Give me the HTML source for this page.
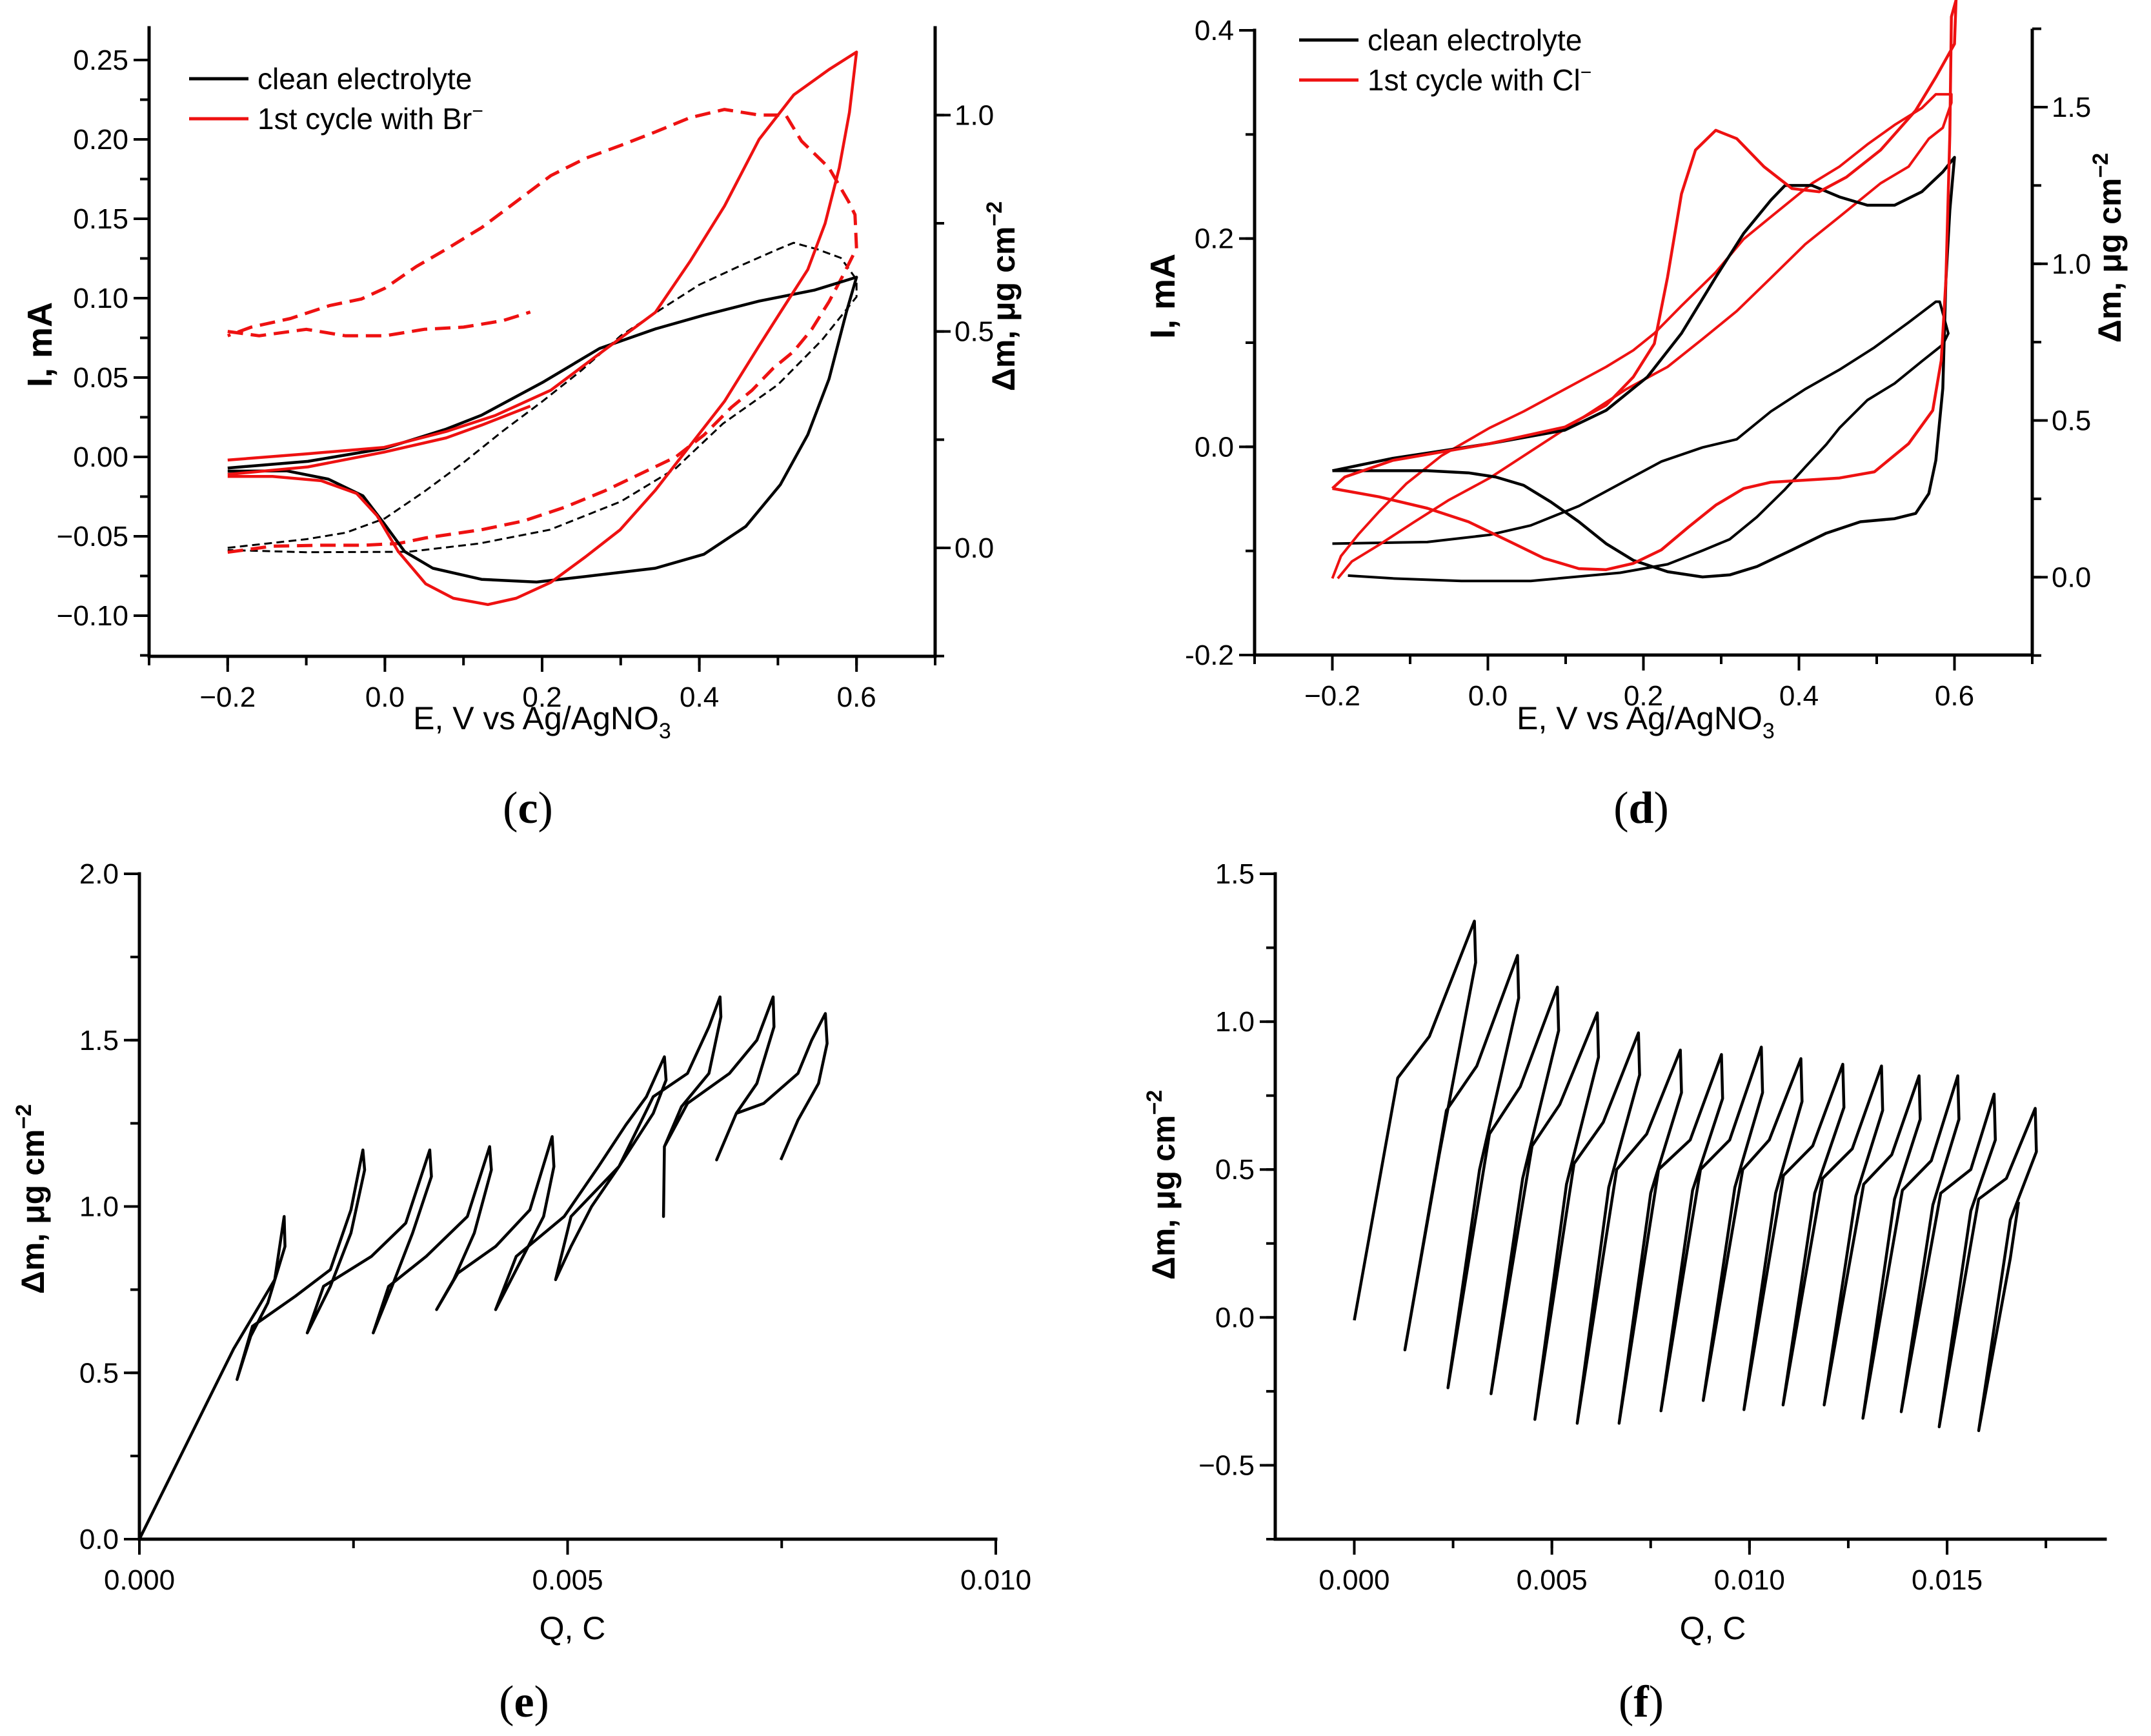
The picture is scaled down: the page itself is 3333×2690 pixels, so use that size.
<!DOCTYPE html>
<html><head><meta charset="utf-8"><style>
html,body{margin:0;padding:0;background:#fff;}
svg{display:block;font-family:"Liberation Sans",sans-serif;}
</style></head><body>
<svg id="fig" width="3333" height="2690" viewBox="0 0 3333 2690" xmlns="http://www.w3.org/2000/svg">
<rect width="3333" height="2690" fill="#fff"/>
<g id="pc"></g>
<g id="pd"></g>
<g id="pe"></g>
<g id="pf"></g>
</svg>
<script>
// ---------- Panel (c) data ----------
const cBlackE=[-0.2,-0.098,-0.001,0.078,0.123,0.202,0.273,0.344,0.406,0.476,0.547,0.6,0.587,0.565,0.538,0.503,0.459,0.406,0.344,0.255,0.193,0.123,0.061,0.025,-0.001,-0.028,-0.072,-0.125,-0.2];
const cBlackI=[-0.007,-0.0028,0.0053,0.0175,0.0263,0.0473,0.0683,0.0806,0.0893,0.0981,0.1051,0.1132,0.0911,0.0491,0.014,-0.0175,-0.0438,-0.0613,-0.0701,-0.0753,-0.0788,-0.0771,-0.0701,-0.0596,-0.042,-0.0245,-0.014,-0.0088,-0.009];
const cRedE=[-0.2,-0.098,-0.001,0.078,0.14,0.211,0.273,0.344,0.388,0.432,0.476,0.52,0.565,0.6,0.591,0.578,0.56,0.538,0.503,0.476,0.432,0.388,0.344,0.299,0.255,0.211,0.167,0.131,0.087,0.052,0.017,-0.01,-0.036,-0.081,-0.143,-0.2];
const cRedI=[-0.002,0.002,0.006,0.016,0.026,0.042,0.065,0.091,0.123,0.158,0.2,0.228,0.244,0.255,0.217,0.182,0.147,0.118,0.091,0.07,0.035,0.007,-0.021,-0.046,-0.063,-0.079,-0.089,-0.093,-0.089,-0.08,-0.0596,-0.037,-0.023,-0.015,-0.0123,-0.0123];
const cRed2E=[-0.2,-0.098,-0.001,0.078,0.123,0.185];
const cRed2I=[-0.011,-0.0063,0.003,0.012,0.02,0.032];
const cRedMassE=[-0.2,-0.143,-0.081,-0.028,0.017,0.052,0.123,0.176,0.229,0.28,0.325,0.37,0.406,0.441,0.467,0.494,0.52,0.543,0.565,0.582,0.6,0.598,0.59,0.565,0.53,0.51,0.476,0.432,0.388,0.344,0.3,0.255,0.211,0.167,0.123,0.078,0.04,0.0,-0.03,-0.07,-0.12,-0.17,-0.2];
const cRedMassM=[-0.01,0.004,0.006,0.006,0.01,0.023,0.042,0.062,0.094,0.132,0.171,0.21,0.261,0.325,0.364,0.415,0.454,0.505,0.569,0.627,0.692,0.77,0.8,0.878,0.94,1.0,1.0,1.013,0.994,0.961,0.93,0.9,0.86,0.8,0.74,0.69,0.65,0.6,0.575,0.56,0.53,0.51,0.49];
const cRedMass2E=[-0.2,-0.16,-0.1,-0.05,0.0,0.05,0.1,0.15,0.185];
const cRedMass2M=[0.5,0.49,0.505,0.49,0.49,0.505,0.51,0.525,0.545];
const cBlackMassE=[-0.2,-0.15,-0.1,-0.05,0.0,0.05,0.1,0.15,0.2,0.25,0.3,0.35,0.4,0.45,0.5,0.52,0.55,0.58,0.6,0.6,0.556,0.5,0.43,0.37,0.3,0.21,0.12,0.03,-0.1,-0.2];
const cBlackMassM=[0.0,0.01,0.02,0.035,0.068,0.13,0.197,0.27,0.338,0.41,0.49,0.55,0.608,0.65,0.69,0.705,0.69,0.67,0.62,0.58,0.48,0.377,0.287,0.184,0.107,0.042,0.01,-0.009,-0.01,-0.005];
const cXTicks=[-0.2,0.0,0.2,0.4,0.6];
const cXLabels=["\u22120.2","0.0","0.2","0.4","0.6"];
const cYTicks=[-0.10,-0.05,0.00,0.05,0.10,0.15,0.20,0.25];
const cYLabels=["\u22120.10","\u22120.05","0.00","0.05","0.10","0.15","0.20","0.25"];
const cY2Ticks=[0.0,0.5,1.0];
const cY2Labels=["0.0","0.5","1.0"];

// ---------- Panel (d) data ----------
const dBlackE=[-0.2,-0.122,0.002,0.099,0.152,0.205,0.249,0.293,0.329,0.364,0.382,0.417,0.452,0.488,0.523,0.558,0.585,0.6,0.594,0.589,0.585,0.576,0.567,0.55,0.523,0.479,0.435,0.391,0.346,0.311,0.276,0.231,0.187,0.152,0.117,0.081,0.046,0.01,-0.025,-0.078,-0.14,-0.2];
const dBlackI=[-0.023,-0.011,0.003,0.016,0.035,0.067,0.109,0.163,0.205,0.237,0.251,0.251,0.24,0.232,0.232,0.245,0.264,0.278,0.227,0.16,0.056,-0.013,-0.045,-0.064,-0.069,-0.072,-0.083,-0.099,-0.115,-0.123,-0.125,-0.12,-0.109,-0.093,-0.072,-0.053,-0.037,-0.029,-0.025,-0.023,-0.023,-0.023];
const dRedE=[-0.2,-0.184,-0.122,0.002,0.099,0.152,0.187,0.214,0.231,0.249,0.267,0.293,0.32,0.355,0.391,0.426,0.461,0.505,0.55,0.576,0.6,0.602,0.596,0.594,0.589,0.583,0.572,0.541,0.497,0.452,0.408,0.364,0.329,0.293,0.258,0.223,0.187,0.152,0.117,0.072,0.028,-0.025,-0.078,-0.14,-0.2];
const dRedI=[-0.04,-0.029,-0.013,0.003,0.019,0.04,0.067,0.099,0.163,0.243,0.285,0.304,0.296,0.269,0.248,0.245,0.259,0.285,0.323,0.355,0.387,0.429,0.413,0.3,0.16,0.083,0.035,0.003,-0.024,-0.03,-0.032,-0.034,-0.04,-0.056,-0.077,-0.099,-0.112,-0.118,-0.117,-0.107,-0.091,-0.072,-0.059,-0.048,-0.04];
const dRedMassE=[-0.2,-0.189,-0.166,-0.14,-0.105,-0.06,0.002,0.046,0.099,0.152,0.187,0.214,0.249,0.293,0.329,0.364,0.417,0.452,0.488,0.523,0.558,0.576,0.596,0.596,0.585,0.567,0.541,0.505,0.452,0.408,0.364,0.32,0.276,0.231,0.178,0.134,0.09,0.046,0.002,-0.051,-0.096,-0.14,-0.175,-0.193];
const dRedMassM=[-0.004,0.067,0.138,0.209,0.298,0.387,0.476,0.529,0.6,0.671,0.724,0.778,0.866,0.973,1.079,1.15,1.257,1.31,1.381,1.443,1.497,1.541,1.541,1.514,1.434,1.399,1.31,1.257,1.15,1.062,0.955,0.849,0.76,0.671,0.6,0.529,0.458,0.387,0.316,0.245,0.174,0.103,0.05,-0.004];
const dBlackMassE=[-0.2,-0.078,0.002,0.055,0.117,0.17,0.223,0.276,0.32,0.364,0.408,0.452,0.497,0.541,0.576,0.581,0.592,0.585,0.558,0.523,0.488,0.452,0.435,0.408,0.382,0.346,0.311,0.276,0.231,0.17,0.055,-0.034,-0.122,-0.18];
const dBlackMassM=[0.107,0.112,0.135,0.165,0.227,0.298,0.369,0.414,0.44,0.529,0.6,0.662,0.733,0.813,0.879,0.879,0.778,0.742,0.689,0.618,0.565,0.476,0.423,0.351,0.28,0.192,0.121,0.085,0.041,0.014,-0.012,-0.012,-0.004,0.005];
const dXTicks=[-0.2,0.0,0.2,0.4,0.6];
const dXLabels=["\u22120.2","0.0","0.2","0.4","0.6"];
const dYTicks=[-0.2,0.0,0.2,0.4];
const dYLabels=["-0.2","0.0","0.2","0.4"];
const dY2Ticks=[0.0,0.5,1.0,1.5];
const dY2Labels=["0.0","0.5","1.0","1.5"];

// ---------- Panel (e) data ----------
const eQ=[0,0.0011,0.00158,0.00169,0.0017,0.0015,0.0013,0.00114,0.00132,0.00182,0.00223,0.00247,0.00261,0.00263,0.00247,0.00223,0.00196,0.00215,0.00271,0.00311,0.00339,0.00341,0.00319,0.00295,0.00273,0.00291,0.00335,0.00383,0.00409,0.00411,0.00391,0.00367,0.00347,0.00372,0.00416,0.00456,0.00482,0.00484,0.00472,0.00448,0.00416,0.0044,0.00496,0.00536,0.00568,0.00592,0.00613,0.00615,0.006,0.0056,0.00528,0.00504,0.00486,0.00504,0.0056,0.006,0.0064,0.00665,0.00678,0.00679,0.00665,0.00633,0.00613,0.00612,0.00613,0.0064,0.00689,0.00721,0.0074,0.00741,0.00721,0.00697,0.00674,0.00697,0.00729,0.00769,0.00785,0.00801,0.00803,0.00793,0.00769,0.00749];
const eM=[0,0.572,0.78,0.97,0.88,0.71,0.61,0.48,0.64,0.73,0.81,0.99,1.17,1.11,0.92,0.76,0.62,0.76,0.85,0.95,1.17,1.09,0.92,0.76,0.62,0.76,0.85,0.97,1.18,1.11,0.92,0.78,0.69,0.8,0.88,0.99,1.21,1.12,0.97,0.85,0.69,0.85,0.97,1.12,1.245,1.33,1.45,1.38,1.28,1.12,1.0,0.88,0.78,0.97,1.12,1.33,1.4,1.54,1.63,1.57,1.4,1.3,1.18,0.97,1.18,1.31,1.4,1.5,1.63,1.54,1.37,1.28,1.14,1.28,1.31,1.4,1.5,1.58,1.49,1.37,1.26,1.14];
const eXTicks=[0,0.005,0.01];
const eXLabels=["0.000","0.005","0.010"];
const eYTicks=[0,0.5,1.0,1.5,2.0];
const eYLabels=["0.0","0.5","1.0","1.5","2.0"];

// ---------- Panel (f) data ----------
const fQ=[0,0.0011,0.0019,0.00304,0.00307,0.00215,0.00128,0.00233,0.0031,0.00413,0.00416,0.00317,0.00237,0.00342,0.0042,0.00514,0.00517,0.00426,0.00346,0.0045,0.0052,0.00615,0.00618,0.00537,0.00457,0.00556,0.0063,0.00719,0.00722,0.00644,0.00564,0.00664,0.0074,0.00825,0.00828,0.0075,0.0067,0.0077,0.0085,0.00929,0.00932,0.00856,0.00776,0.00876,0.0095,0.0103,0.01033,0.00963,0.00883,0.00983,0.0105,0.0113,0.01133,0.01066,0.00986,0.01086,0.0116,0.01236,0.01239,0.01165,0.01085,0.01185,0.0126,0.01334,0.01337,0.01269,0.01189,0.01289,0.0136,0.01429,0.01432,0.01367,0.01287,0.01387,0.0146,0.01527,0.0153,0.01464,0.01384,0.01484,0.0156,0.01619,0.01622,0.0156,0.0148,0.0158,0.0165,0.01723,0.01726,0.0166,0.0158,0.0166,0.01681];
const fM=[-0.01,0.81,0.95,1.34,1.2,0.55,-0.11,0.7,0.85,1.224,1.08,0.5,-0.238,0.62,0.78,1.117,0.97,0.47,-0.258,0.58,0.72,1.03,0.88,0.45,-0.345,0.52,0.66,0.962,0.82,0.44,-0.358,0.5,0.62,0.904,0.76,0.42,-0.358,0.5,0.6,0.889,0.74,0.43,-0.316,0.5,0.6,0.914,0.76,0.44,-0.281,0.5,0.6,0.875,0.73,0.42,-0.312,0.48,0.58,0.856,0.71,0.42,-0.296,0.47,0.57,0.85,0.7,0.41,-0.296,0.45,0.55,0.817,0.67,0.4,-0.341,0.43,0.53,0.817,0.67,0.38,-0.319,0.42,0.5,0.755,0.6,0.36,-0.37,0.4,0.47,0.707,0.56,0.33,-0.383,0.2,0.391];
const fXTicks=[0,0.005,0.01,0.015];
const fXLabels=["0.000","0.005","0.010","0.015"];
const fYTicks=[-0.5,0,0.5,1.0,1.5];
const fYLabels=["\u22120.5","0.0","0.5","1.0","1.5"];

const NS="http://www.w3.org/2000/svg";
const TICK_FS=44, TITLE_FS=50;
function mk(parent,tag,attrs){const el=document.createElementNS(NS,tag);for(const k in attrs)el.setAttribute(k,attrs[k]);parent.appendChild(el);return el;}
function scale(d0,d1,p0,p1){return v=>p0+(v-d0)/(d1-d0)*(p1-p0);}
function line(g,xs,ys,sx,sy,color,w,dash,name){
  let d="";for(let i=0;i<xs.length;i++){d+=(i?"L":"M")+sx(xs[i]).toFixed(1)+","+sy(ys[i]).toFixed(1);}
  const p=mk(g,"path",{d:d,fill:"none",stroke:color,"stroke-width":w,"stroke-linejoin":"round"});
  if(dash)p.setAttribute("stroke-dasharray",dash);
  
  
  return p;
}
function txt(g,x,y,s,size,anchor,name){
  const t=mk(g,"text",{x:x,y:y,"font-size":size,"text-anchor":anchor||"middle",fill:"#000"});
  t.textContent=s;
  
  
  return t;
}
function axes(g,o){
  const {L,R,T,B,sx,sy,xt,xl,yt,yl,xminor,yminor,y2}=o;
  const ax=mk(g,"path",{d:`M${L},${T}L${L},${B}L${R},${B}`+(y2?`M${R},${T}L${R},${B}`:""),fill:"none",stroke:"#000","stroke-width":5,"stroke-linecap":"square"});
  
  
  xminor.forEach(v=>{const x=sx(v);const t=mk(g,"line",{x1:x,y1:B,x2:x,y2:B+14,stroke:"#000","stroke-width":4});});
  xt.forEach((v,i)=>{const x=sx(v);const t=mk(g,"line",{x1:x,y1:B,x2:x,y2:B+24,stroke:"#000","stroke-width":4});txt(g,x,B+78,xl[i],TICK_FS,"middle","x-tick-label");});
  yminor.forEach(v=>{const y=sy(v);const t=mk(g,"line",{x1:L,y1:y,x2:L-14,y2:y,stroke:"#000","stroke-width":4});});
  yt.forEach((v,i)=>{const y=sy(v);const t=mk(g,"line",{x1:L,y1:y,x2:L-24,y2:y,stroke:"#000","stroke-width":4});txt(g,L-32,y+15,yl[i],TICK_FS,"end","y-tick-label");});
  if(y2){
    y2.minor.forEach(v=>{const y=y2.s(v);const t=mk(g,"line",{x1:R,y1:y,x2:R+14,y2:y,stroke:"#000","stroke-width":4});});
    y2.t.forEach((v,i)=>{const y=y2.s(v);const t=mk(g,"line",{x1:R,y1:y,x2:R+24,y2:y,stroke:"#000","stroke-width":4});txt(g,R+30,y+15,y2.l[i],TICK_FS,"start","y2-tick-label");});
  }
}
function range(a,b,s){const r=[];for(let v=a;v<=b+1e-9;v+=s)r.push(+v.toFixed(6));return r;}
function dmTitle(g,x,y,name){
  const t=mk(g,"text",{x:0,y:0,"font-size":TITLE_FS,"text-anchor":"middle","font-weight":"bold",transform:`translate(${x},${y}) rotate(-90)`});
  t.innerHTML='\u0394m, \u03bcg cm<tspan dy="-20" font-size="34">\u22122</tspan>';
  
  
}
function vTitle(g,x,y,s,name){
  const t=mk(g,"text",{x:0,y:0,"font-size":TITLE_FS+4,"text-anchor":"middle","font-weight":"bold",transform:`translate(${x},${y}) rotate(-90)`});
  t.textContent=s;
  
  
}
function eTitle(g,x,y){
  const t=mk(g,"text",{x:x,y:y,"font-size":TITLE_FS,"text-anchor":"middle"});
  t.innerHTML='E, V vs Ag/AgNO<tspan dy="14" font-size="34">3</tspan>';
  
  
}
function panelLabel(g,x,y,s){
  const t=mk(g,"text",{x:x,y:y,"font-size":70,"text-anchor":"middle","font-family":"Liberation Serif, serif"});
  t.innerHTML='(<tspan font-weight="bold">'+s+'</tspan>)';
  
  
}
function legend(g,x,y,items){
  items.forEach((it,i)=>{
    const yy=y+i*62;
    const l=mk(g,"line",{x1:x,y1:yy,x2:x+92,y2:yy,stroke:it.c,"stroke-width":5});
    
    
    const t=mk(g,"text",{x:x+106,y:yy+16,"font-size":46});
    t.innerHTML=it.t;
    
    
  });
}
const RED="#ee1111";
// Panel c
(function(){
  const g=document.getElementById("pc");
  const L=231,R=1449,T=43,B=1017;
  const sx=scale(-0.3,0.7,L,R), sy=scale(-0.1256,0.2703,B,T), sy2=scale(-0.2506,1.2018,B,T);
  axes(g,{L,R,T,B,sx,sy,xt:cXTicks,xl:cXLabels,yt:cYTicks,yl:cYLabels,xminor:range(-0.3,0.7,0.1),yminor:range(-0.125,0.25,0.025),y2:{s:sy2,t:cY2Ticks,l:cY2Labels,minor:range(-0.25,1.0,0.25)}});
  line(g,cBlackMassE,cBlackMassM,sx,sy2,"#000",3,"12 7","clean-mass-curve");
  line(g,cRedMassE,cRedMassM,sx,sy2,RED,5,"24 12","br-mass-curve");
  line(g,cRedMass2E,cRedMass2M,sx,sy2,RED,5,"24 12","br-mass-curve-end");
  line(g,cBlackE,cBlackI,sx,sy,"#000",4.5,null,"clean-cv-curve");
  line(g,cRedE,cRedI,sx,sy,RED,4.5,null,"br-cv-curve");
  line(g,cRed2E,cRed2I,sx,sy,RED,4.5,null,"br-cv-curve-end");
  vTitle(g,80,534,"I, mA","y-axis-title");
  dmTitle(g,1572,459,"y2-axis-title");
  eTitle(g,840,1130);
  legend(g,293,122,[{c:"#000",t:"clean electrolyte"},{c:RED,t:'1st cycle with Br<tspan dy="-18" font-size="30">\u2212</tspan>'}]);
  panelLabel(g,818,1275,"c");
})();
// Panel d
(function(){
  const g=document.getElementById("pd");
  const L=1944,R=3149,T=47,B=1015;
  const sx=scale(-0.3,0.7,L,R), sy=scale(-0.2,0.4,B,T), sy2=scale(-0.2485,1.745,B,T);
  axes(g,{L,R,T,B,sx,sy,xt:dXTicks,xl:dXLabels,yt:dYTicks,yl:dYLabels,xminor:range(-0.3,0.7,0.1),yminor:range(-0.2,0.4,0.1),y2:{s:sy2,t:dY2Ticks,l:dY2Labels,minor:range(-0.25,1.75,0.25)}});
  line(g,dBlackMassE,dBlackMassM,sx,sy2,"#000",4,null,"clean-mass-curve");
  line(g,dRedMassE,dRedMassM,sx,sy2,RED,4,null,"cl-mass-curve");
  line(g,dBlackE,dBlackI,sx,sy,"#000",4.5,null,"clean-cv-curve");
  line(g,dRedE,dRedI,sx,sy,RED,4.5,null,"cl-cv-curve");
  vTitle(g,1820,459,"I, mA","y-axis-title");
  dmTitle(g,3286,384,"y2-axis-title");
  eTitle(g,2550,1130);
  legend(g,2013,62,[{c:"#000",t:"clean electrolyte"},{c:RED,t:'1st cycle with Cl<tspan dy="-18" font-size="30">\u2212</tspan>'}]);
  panelLabel(g,2543,1275,"d");
})();
// Panel e
(function(){
  const g=document.getElementById("pe");
  const L=216,R=1543,T=1354,B=2385;
  const sx=scale(0,0.01,L,R), sy=scale(0,2.0,B,T);
  axes(g,{L,R,T,B,sx,sy,xt:eXTicks,xl:eXLabels,yt:eYTicks,yl:eYLabels,xminor:range(0,0.01,0.0025),yminor:range(0,2.0,0.25)});
  line(g,eQ,eM,sx,sy,"#000",4.5,null,"mass-charge-curve");
  dmTitle(g,68,1858,"y-axis-title");
  txt(g,887,2540,"Q, C",TITLE_FS,"middle","x-axis-title");
  panelLabel(g,812,2660,"e");
})();
// Panel f
(function(){
  const g=document.getElementById("pf");
  const L=1976,R=3262,T=1354,B=2385;
  const sx=scale(-0.002,0.019,L,R), sy=scale(-0.75,1.5,B,T);
  axes(g,{L,R,T,B,sx,sy,xt:fXTicks,xl:fXLabels,yt:fYTicks,yl:fYLabels,xminor:range(0,0.0175,0.0025),yminor:range(-0.75,1.5,0.25)});
  line(g,fQ,fM,sx,sy,"#000",4.5,null,"mass-charge-curve");
  dmTitle(g,1820,1836,"y-axis-title");
  txt(g,2654,2540,"Q, C",TITLE_FS,"middle","x-axis-title");
  panelLabel(g,2543,2660,"f");
})();
</script>
</body></html>
